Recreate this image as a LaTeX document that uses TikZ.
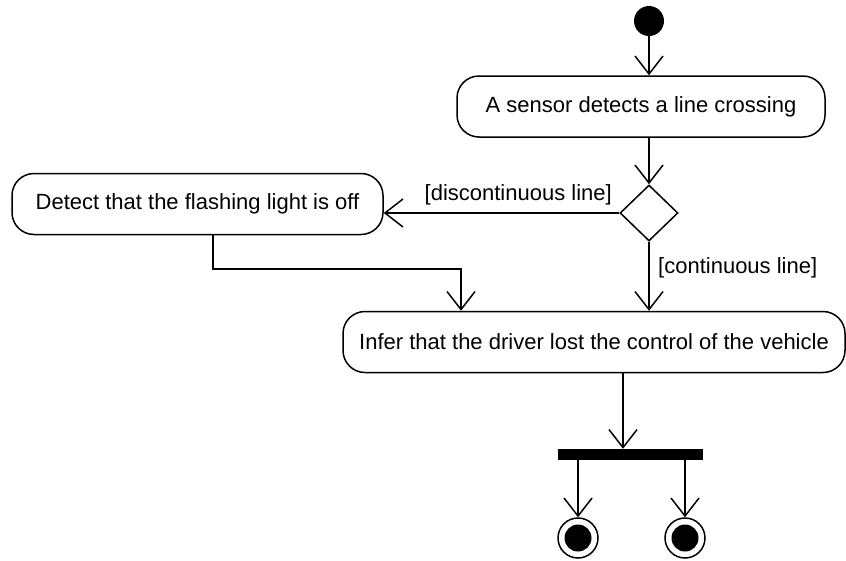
\documentclass[tikz,border=0pt]{standalone}
\usepackage{fontspec}
\setmainfont{Liberation Sans}
\usetikzlibrary{arrows.meta,shapes.geometric}
\begin{document}
\begin{tikzpicture}[x=1pt,y=-1pt,
  every node/.style={font=\fontsize{22}{24}\selectfont},
  act/.style={draw,line width=1.5pt,rounded corners=22pt,minimum height=61pt,inner sep=0pt},
  arr/.style={line width=1.5pt,-{Straight Barb[length=18pt,width=28pt,line width=1.5pt]}},
  lbl/.style={inner sep=0pt}]
\useasboundingbox (0,0) rectangle (846,560);
\fill[white] (0,0) rectangle (846,560);
\node[circle,fill=black,minimum size=30pt,inner sep=0pt] (start) at (649,21) {};
\node[act,minimum width=368pt] (act1) at (641,106.5) {A sensor detects a line crossing};
\node[draw,line width=1.5pt,diamond,minimum width=58pt,minimum height=56pt,inner sep=0pt] (dia) at (649,213) {};
\node[act,minimum width=371pt] (act2) at (197.5,204) {Detect that the flashing light is off};
\node[act,minimum width=502pt] (act3) at (594,342) {Infer that the driver lost the control of the vehicle};
\node[rectangle,fill=black,minimum width=145pt,minimum height=11pt,inner sep=0pt] (bar) at (630.5,454.5) {};
\node[circle,draw,line width=1.5pt,minimum size=40pt,inner sep=0pt] (end1) at (578,538) {};
\node[circle,draw,line width=1.5pt,minimum size=40pt,inner sep=0pt] (end2) at (685,538) {};
\fill (end1.center) circle (13.5pt);
\fill (end2.center) circle (13.5pt);
\coordinate (k1) at (213,269);
\coordinate (k2) at (461,269);
\coordinate (k3) at (623,420);
\draw[arr] (start.south) -- (start.south |- act1.north);
\draw[arr] (dia.north |- act1.south) -- (dia.north);
\draw[arr] (dia.west) -- (dia.west -| act2.east);
\draw[arr] (dia.south) -- (dia.south |- act3.north);
\draw[arr] (k1 |- act2.south) -- (k1) -- (k2) -- (k2 |- act3.north);
\draw[arr] (k3 |- act3.south) -- (k3 |- bar.north);
\draw[arr] (end1.north |- bar.south) -- (end1.north);
\draw[arr] (end2.north |- bar.south) -- (end2.north);
\node[lbl,anchor=east] (l1) at (612,195) {[discontinuous line]};
\node[lbl,anchor=west] (l2) at (658,268) {[continuous line]};
\end{tikzpicture}
\end{document}
